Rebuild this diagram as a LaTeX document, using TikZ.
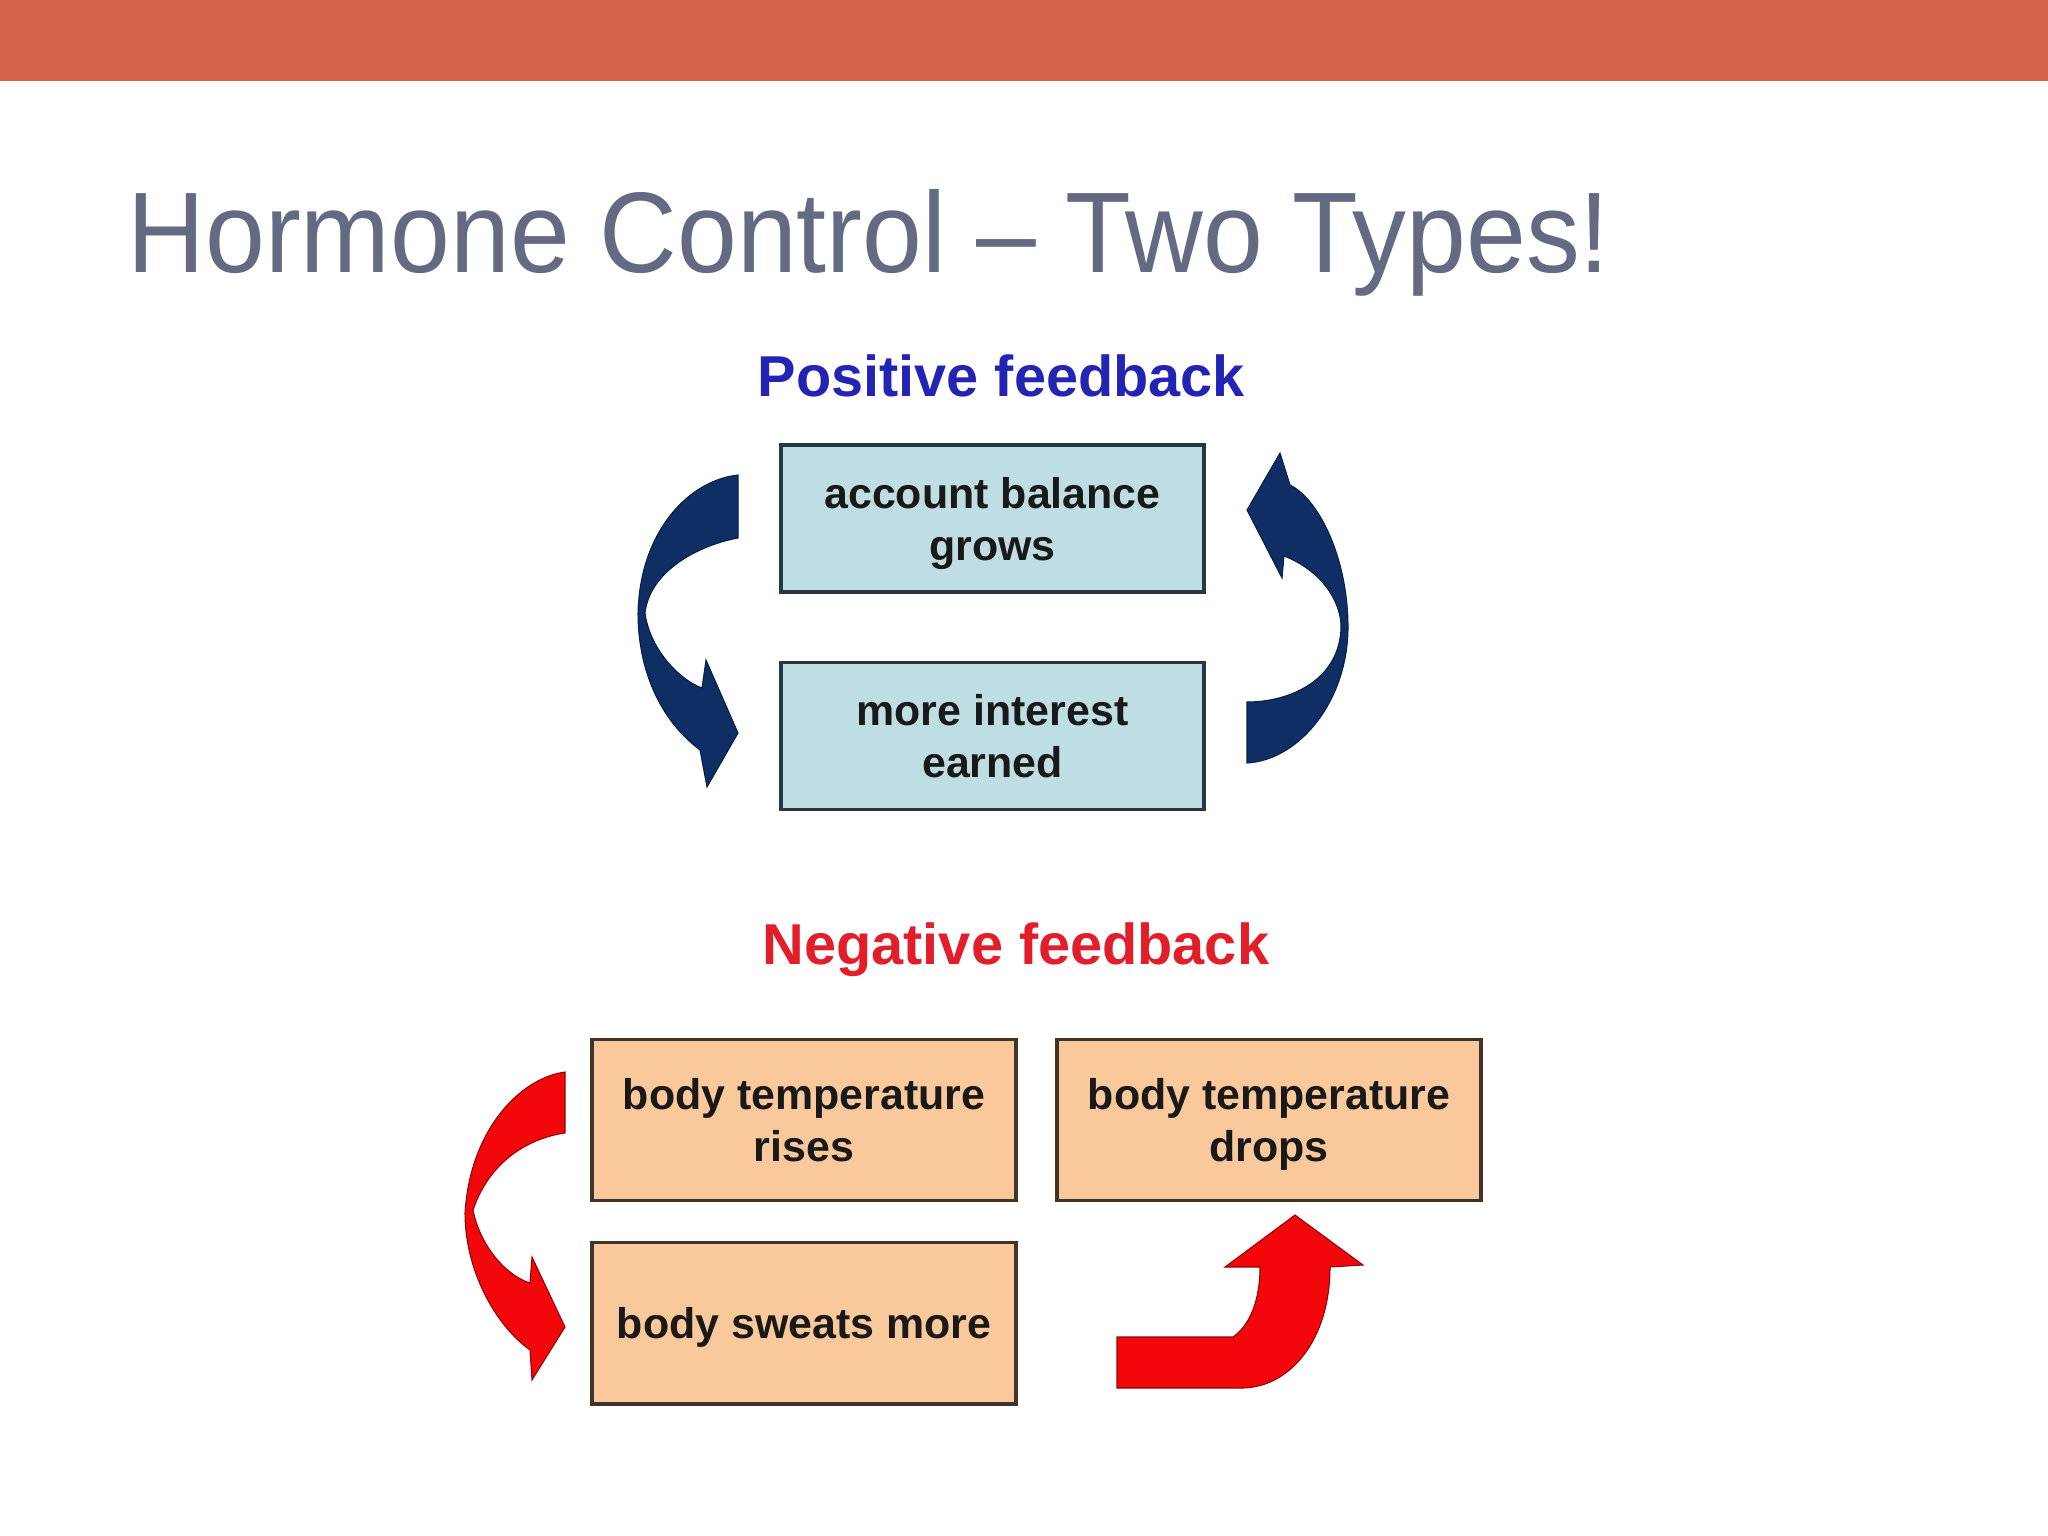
\documentclass[tikz,border=0pt]{standalone}
\usepackage{fontspec}
\setmainfont{Liberation Sans}

\definecolor{bannerred}{HTML}{D3634A}
\definecolor{titlegray}{HTML}{636A82}
\definecolor{posblue}{HTML}{2424B4}
\definecolor{negred}{HTML}{E21E2A}
\definecolor{bluefill}{HTML}{BEDEE4}
\definecolor{bluerim}{HTML}{263840}
\definecolor{orangefill}{HTML}{F9C99B}
\definecolor{orangerim}{HTML}{40342A}
\definecolor{navyarrow}{HTML}{0F2E63}
\definecolor{redarrow}{HTML}{F2080A}

\newcommand{\boxfont}{\fontsize{12.2pt}{14.8pt}\selectfont\bfseries}
\newcommand{\headfont}{\fontsize{16.4pt}{19pt}\selectfont\bfseries}

\begin{document}
\begin{tikzpicture}
[
    x=0.01cm, y=-0.01cm,
    posbox/.style={draw=bluerim, fill=bluefill, line width=1.1pt,
        minimum width=4.23cm, minimum height=1.47cm, align=center,
        text depth=0pt, font=\boxfont, text=black!90},
    negbox/.style={draw=orangerim, fill=orangefill, line width=1.1pt,
        minimum width=4.24cm, minimum height=1.61cm, align=center,
        text depth=0pt, font=\boxfont, text=black!90},
    heading/.style={font=\headfont, anchor=base west, inner sep=0pt},
    bluearrow/.style={fill=navyarrow, draw=navyarrow!70!black, line width=0.3pt},
    redblock/.style={fill=redarrow, draw=redarrow!60!black, line width=0.3pt},
]
\useasboundingbox (0,0) rectangle (2048,1536);
\fill[white] (0,0) rectangle (2048,1536);
\fill[bannerred] (0,0) rectangle (2048,81);

% title
\node[anchor=base west, inner sep=0pt, text=titlegray] (title) at (127,272)
    {\fontsize{32.6pt}{39pt}\selectfont\scalebox{0.938}[1]{Hormone Control – Two Types!}};

% positive feedback
\node[heading, text=posblue] (poshead) at (757,396) {Positive feedback};
\node[posbox] (balance) at (992.5,518.5) {account balance\\grows};
\node[posbox] (interest) at (992.5,736) {more interest\\earned};

% left blue arrow
\draw[bluearrow] (738,475) -- (738,538)
    .. controls (700,545) and (650,570) .. (645,613)
    .. controls (650,650) and (680,680) .. (702,688)
    -- (706,660) -- (738,733) -- (707,787) -- (700,750)
    .. controls (660,720) and (638,670) .. (638,613)
    .. controls (640,530) and (690,480) .. cycle;

% right blue arrow
\draw[bluearrow] (1247,763)
    .. controls (1300,760) and (1348,700) .. (1348,627)
    .. controls (1348,560) and (1320,500) .. (1290,485)
    -- (1280,453) -- (1247,510) -- (1282,578) -- (1284,556)
    .. controls (1320,570) and (1341,600) .. (1341,627)
    .. controls (1340,680) and (1290,702) .. (1247,702) -- cycle;

% negative feedback
\node[heading, text=negred] (neghead) at (762,964) {Negative feedback};
\node[negbox] (rises) at (804,1120) {body temperature\\rises};
\node[negbox] (drops) at (1269,1120) {body temperature\\drops};
\node[negbox] (sweats) at (804,1323) {body sweats more};

% left red arrow
\draw[redblock] (565,1072) -- (565,1133)
    .. controls (530,1138) and (490,1160) .. (473,1210)
    .. controls (480,1245) and (505,1275) .. (530,1283)
    -- (532,1257) -- (565,1327) -- (532,1380) -- (530,1350)
    .. controls (495,1325) and (465,1270) .. (465,1213)
    .. controls (470,1130) and (520,1078) .. cycle;

% right red arrow
\draw[redblock] (1117,1337) -- (1233,1337)
    .. controls (1250,1325) and (1260,1300) .. (1260,1267)
    -- (1225,1267) -- (1295,1215) -- (1363,1265) -- (1330,1267)
    .. controls (1330,1340) and (1290,1387) .. (1243,1388)
    -- (1117,1388) -- cycle;
\end{tikzpicture}
\end{document}
